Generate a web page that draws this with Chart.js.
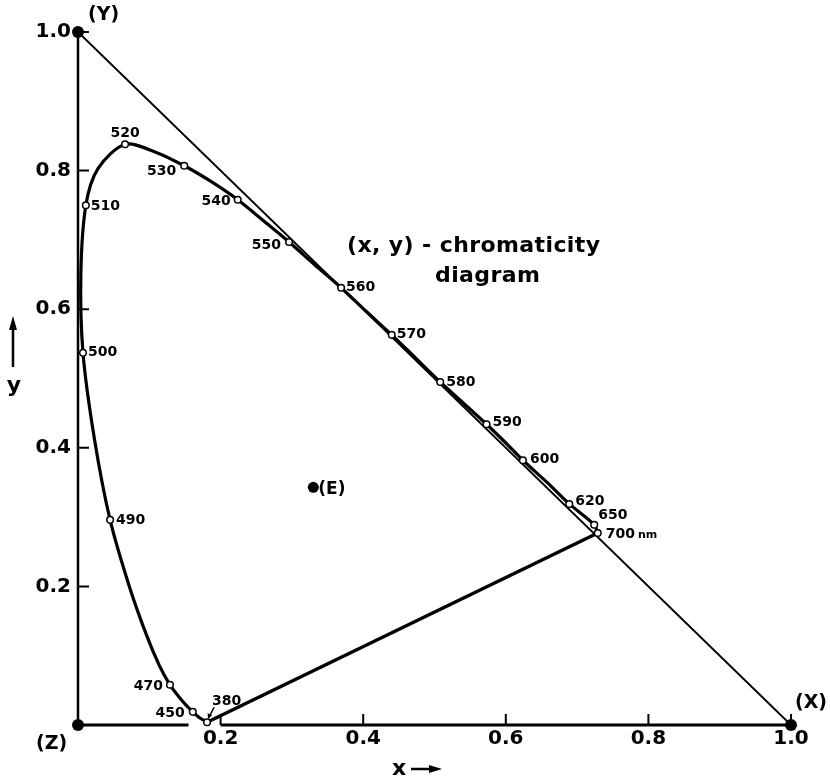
<!DOCTYPE html>
<html lang="en">
<head>
<meta charset="UTF-8">
<title>(x, y) - chromaticity diagram</title>
<script src="https://cdn.jsdelivr.net/npm/chart.js@4.4.0/dist/chart.umd.min.js"></script>
<style>
    html, body { margin: 0; padding: 0; background: #fff; }
    #wrap { width: 830px; height: 779px; }
</style>
</head>
<body>
<div id="wrap"><canvas id="chroma" width="830" height="779"></canvas></div>
<script>
// spectral locus (nm) and its chromaticity coordinates
const wavelengths = [380, 420, 440, 450, 460, 470, 475, 480, 485, 490, 495, 500, 505, 510, 515, 520, 525, 530, 535, 540,
                     545, 550, 555, 560, 565, 570, 575, 580, 585, 590, 595, 600, 610, 620, 650, 700];
const locusX = [0.181, 0.178, 0.171, 0.161, 0.147, 0.129, 0.114, 0.096, 0.072, 0.045, 0.023, 0.007, 0.004, 0.011, 0.028, 0.066, 0.108, 0.149, 0.187, 0.224,
                0.261, 0.296, 0.332, 0.369, 0.404, 0.440, 0.474, 0.508, 0.541, 0.573, 0.599, 0.624, 0.659, 0.689, 0.724, 0.729];
const locusY = [0.004, 0.006, 0.010, 0.019, 0.034, 0.058, 0.086, 0.130, 0.200, 0.296, 0.413, 0.537, 0.650, 0.750, 0.803, 0.838, 0.827, 0.807, 0.784, 0.758,
                0.727, 0.697, 0.664, 0.631, 0.597, 0.563, 0.529, 0.495, 0.464, 0.434, 0.408, 0.382, 0.349, 0.319, 0.289, 0.277];
const markedWavelengths = [380, 450, 470, 490, 500, 510, 520, 530, 540, 550, 560, 570, 580, 590, 600, 620, 650, 700];

// primaries X, Y, Z and the equal-energy point E
const primaryNames = ['(X)', '(Y)', '(Z)'];
const primaryX = [1, 0, 0];
const primaryY = [0, 1, 0];
const whiteNames = ['(E)'];
const whiteX = [0.330];
const whiteY = [0.343];

const tickValues = [0.2, 0.4, 0.6, 0.8, 1.0];
const tickLabels = ['0.2', '0.4', '0.6', '0.8', '1.0'];

// the x axis is broken where the 380 nm end meets it
const xAxisBreak = [0.155, 0.2];

const FONT = '"DejaVu Sans", sans-serif';

const pts = (xs, ys) => xs.map((x, i) => ({ x: x, y: ys[i] }));
const at = nm => ({ x: locusX[wavelengths.indexOf(nm)], y: locusY[wavelengths.indexOf(nm)] });

// where each wavelength label sits next to its marker
const labelPlace = {
    380: { dx: 5, dy: -21, align: 'left' },
    450: { dx: -8, dy: 2, align: 'right' },
    470: { dx: -7, dy: 2, align: 'right' },
    490: { dx: 6, dy: 0, align: 'left' },
    500: { dx: 5, dy: 0, align: 'left' },
    510: { dx: 5, dy: 1, align: 'left' },
    520: { dx: 0, dy: -11, align: 'center' },
    530: { dx: -8, dy: 6, align: 'right' },
    540: { dx: -7, dy: 2, align: 'right' },
    550: { dx: -8, dy: 3, align: 'right' },
    560: { dx: 5, dy: 0, align: 'left' },
    570: { dx: 5, dy: 0, align: 'left' },
    580: { dx: 6, dy: 0, align: 'left' },
    590: { dx: 6, dy: -2, align: 'left' },
    600: { dx: 7, dy: -1, align: 'left' },
    620: { dx: 6, dy: -3, align: 'left' },
    650: { dx: 4, dy: -9, align: 'left' },
    700: { dx: 8, dy: 1, align: 'left' }
};

const diagramText = {
    id: 'diagramText',
    afterDatasetsDraw(chart) {
        const { ctx, chartArea: area, scales: { x: sx, y: sy } } = chart;
        ctx.save();
        ctx.fillStyle = '#000';
        ctx.strokeStyle = '#000';

        // inward tick marks
        ctx.lineWidth = 2;
        ctx.beginPath();
        tickValues.forEach(v => {
            const px = sx.getPixelForValue(v);
            ctx.moveTo(px, area.bottom);
            ctx.lineTo(px, area.bottom - 11);
            const py = sy.getPixelForValue(v);
            ctx.moveTo(area.left, py);
            ctx.lineTo(area.left + 11, py);
        });
        ctx.stroke();

        // wavelength labels
        const marks = chart.getDatasetMeta(2).data;
        ctx.textBaseline = 'middle';
        markedWavelengths.forEach((nm, i) => {
            const p = marks[i];
            const place = labelPlace[nm];
            ctx.font = 'bold 14px ' + FONT;
            ctx.textAlign = place.align;
            ctx.fillText(String(nm), p.x + place.dx, p.y + place.dy);
            if (nm === 700) {
                const w = ctx.measureText('700').width;
                ctx.font = 'bold 11px ' + FONT;
                ctx.textAlign = 'left';
                ctx.fillText('nm', p.x + place.dx + w + 3, p.y + place.dy + 1);
            }
            if (nm === 380) {
                // leader from the label down to the marker
                ctx.lineWidth = 1.5;
                ctx.beginPath();
                ctx.moveTo(p.x + 7, p.y - 15);
                ctx.lineTo(p.x + 1.5, p.y - 4);
                ctx.stroke();
                ctx.beginPath();
                ctx.moveTo(p.x + 1, p.y - 3.5);
                ctx.lineTo(p.x + 0.5, p.y - 9);
                ctx.lineTo(p.x + 5, p.y - 7);
                ctx.closePath();
                ctx.fill();
            }
        });

        // primaries and E
        const prim = chart.getDatasetMeta(1).data;
        const primOffset = [{ dx: 4, dy: -17 }, { dx: 10, dy: -12 }, { dx: -42, dy: 24 }];
        ctx.font = 'bold 19px ' + FONT;
        ctx.textAlign = 'left';
        ctx.textBaseline = 'alphabetic';
        primaryNames.forEach((name, i) => {
            ctx.fillText(name, prim[i].x + primOffset[i].dx, prim[i].y + primOffset[i].dy);
        });
        const white = chart.getDatasetMeta(0).data;
        ctx.font = 'bold 17px ' + FONT;
        whiteNames.forEach((name, i) => {
            ctx.fillText(name, white[i].x + 5, white[i].y + 7);
        });

        // title
        ctx.font = 'bold 22px ' + FONT;
        ctx.letterSpacing = '0.4px';
        ctx.fillText('(x, y) - chromaticity', 347, 252);
        ctx.fillText('diagram', 435, 282);
        ctx.letterSpacing = '0px';

        // axis names with arrows
        ctx.font = 'bold 22px ' + FONT;
        ctx.textAlign = 'center';
        ctx.fillText('y', 14, 392);
        ctx.fillText('x', 399, 775);
        ctx.lineWidth = 2.5;
        ctx.beginPath();
        ctx.moveTo(13, 367);
        ctx.lineTo(13, 326);
        ctx.moveTo(411, 769);
        ctx.lineTo(432, 769);
        ctx.stroke();
        ctx.beginPath();
        ctx.moveTo(13, 316);
        ctx.lineTo(9, 330);
        ctx.lineTo(17, 330);
        ctx.closePath();
        ctx.fill();
        ctx.beginPath();
        ctx.moveTo(442, 769);
        ctx.lineTo(429, 765);
        ctx.lineTo(429, 773);
        ctx.closePath();
        ctx.fill();

        ctx.restore();
    }
};

const lineSet = (data, width, extra) => Object.assign({
    data: data,
    showLine: true,
    borderColor: '#000',
    borderWidth: width,
    pointRadius: 0,
    clip: false
}, extra || {});

new Chart(document.getElementById('chroma'), {
    type: 'scatter',
    data: {
        datasets: [
            { data: pts(whiteX, whiteY), pointRadius: 5.5, pointBackgroundColor: '#000', pointBorderWidth: 0, clip: false },
            { data: pts(primaryX, primaryY), pointRadius: 6, pointBackgroundColor: '#000', pointBorderWidth: 0, clip: false },
            { data: markedWavelengths.map(at), pointRadius: 3.3, pointBackgroundColor: '#fff',
              pointBorderColor: '#000', pointBorderWidth: 1.5, clip: false },
            lineSet(pts(locusX, locusY), 3.2, { tension: 0.3 }),
            lineSet([at(380), at(700)], 3.5),
            lineSet([{ x: primaryX[1], y: primaryY[1] }, { x: primaryX[0], y: primaryY[0] }], 1.8),
            lineSet([{ x: primaryX[2], y: primaryY[2] }, { x: primaryX[1], y: primaryY[1] }], 2.5),
            lineSet([{ x: primaryX[2], y: primaryY[2] }, { x: xAxisBreak[0], y: 0 }, { x: (xAxisBreak[0] + xAxisBreak[1]) / 2, y: null },
                     { x: xAxisBreak[1], y: 0 }, { x: primaryX[0], y: primaryY[0] }], 3.2)
        ]
    },
    options: {
        responsive: false,
        devicePixelRatio: 1,
        animation: false,
        events: [],
        layout: { padding: { left: 0, top: 32, right: 39, bottom: 0 } },
        plugins: { legend: { display: false }, tooltip: { enabled: false } },
        scales: {
            x: {
                type: 'linear', min: 0, max: 1,
                afterBuildTicks: s => { s.ticks = tickValues.map(v => ({ value: v })); },
                afterFit: s => { s.height = 54; },
                ticks: {
                    callback: (v, i) => tickLabels[i],
                    font: { family: FONT, size: 20, weight: 'bold' },
                    color: '#000', padding: 2, maxRotation: 0, autoSkip: false
                },
                grid: { display: false, drawTicks: false },
                border: { display: false }
            },
            y: {
                type: 'linear', min: 0, max: 1,
                afterBuildTicks: s => { s.ticks = tickValues.map(v => ({ value: v })); },
                afterFit: s => { s.width = 78; },
                ticks: {
                    callback: (v, i) => tickLabels[i],
                    font: { family: FONT, size: 20, weight: 'bold' },
                    color: '#000', padding: 7, autoSkip: false
                },
                grid: { display: false, drawTicks: false },
                border: { display: false }
            }
        }
    },
    plugins: [diagramText]
});
</script>
</body>
</html>
